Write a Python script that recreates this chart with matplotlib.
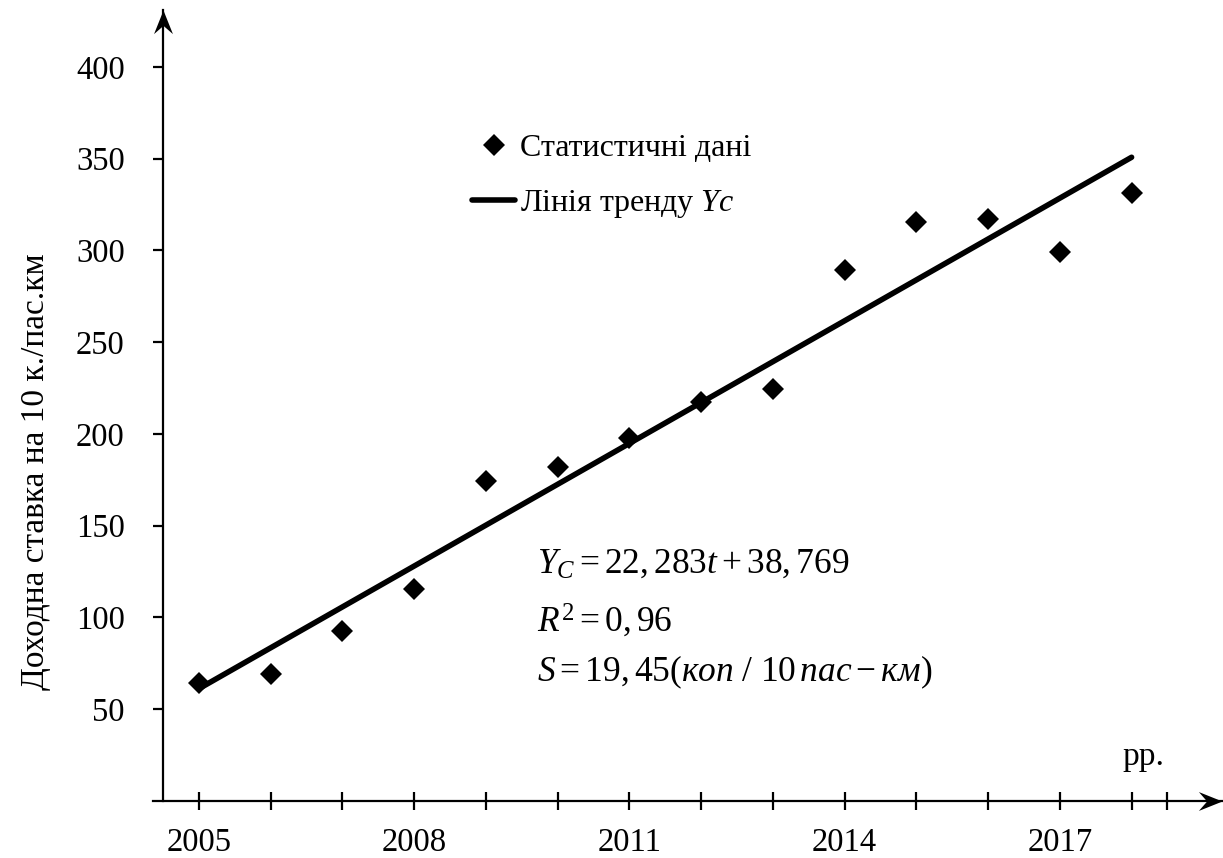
import matplotlib
matplotlib.use("Agg")
import matplotlib.pyplot as plt
import numpy as np
from matplotlib.path import Path

# Passenger revenue rate per 10 pass-km by year
years = np.arange(2005, 2019)
rate = [64.3, 69.1, 92.5, 115.5, 174.4, 182.0, 197.8, 217.4, 224.5,
        289.4, 315.7, 317.0, 299.0, 331.5]

# Linear trend Yc = a*t + b, t = 1 for the first year
trend_slope = 22.283
trend_intercept = 38.769

y_ticks = [50, 100, 150, 200, 250, 300, 350, 400]
x_label_years = [2005, 2008, 2011, 2014, 2017]

plt.rcParams["font.family"] = ["Liberation Serif", "DejaVu Serif"]
plt.rcParams["mathtext.fontset"] = "custom"
plt.rcParams["mathtext.rm"] = "Liberation Serif"
plt.rcParams["mathtext.it"] = "Liberation Serif:italic"
plt.rcParams["mathtext.bf"] = "Liberation Serif:bold"

W, H = 1223, 858
fig = plt.figure(figsize=(W / 100, H / 100), dpi=100)
ax = fig.add_axes([153 / W, 57.3 / H, 1069 / W, 790.7 / H])

x_min, x_max = 2004.36, 2019.26
y_axis_x = 2004.5
y_max = 431
ax.set_xlim(x_min, x_max)
ax.set_ylim(0, y_max)

t = years - years[0] + 1
trend = trend_slope * t + trend_intercept

pts, = ax.plot(years, rate, linestyle="none", marker="D", color="black",
               ms=11, mew=0, zorder=3, label="Статистичні дані")
line, = ax.plot(years, trend, color="black", lw=4, solid_capstyle="round",
                zorder=2, label="Лінія тренду $Yc$")

# Axes drawn as arrows
for side in ("top", "right"):
    ax.spines[side].set_visible(False)
ax.spines["left"].set_position(("data", y_axis_x))
ax.spines["bottom"].set_position(("data", 0))
for side in ("left", "bottom"):
    ax.spines[side].set_linewidth(1.6)

head_right = Path([(0, 0), (-1, 0.4), (-0.65, 0), (-1, -0.4), (0, 0)],
                  [Path.MOVETO, Path.LINETO, Path.LINETO, Path.LINETO, Path.CLOSEPOLY])
head_up = Path([(0, 0), (0.4, -1), (0, -0.65), (-0.4, -1), (0, 0)],
               [Path.MOVETO, Path.LINETO, Path.LINETO, Path.LINETO, Path.CLOSEPOLY])
ax.plot([x_max], [0], marker=head_right, ms=34, color="black", mew=0, clip_on=False)
ax.plot([y_axis_x], [y_max], marker=head_up, ms=34, color="black", mew=0, clip_on=False)

xt = list(years) + [2018.5]
ax.set_xticks(xt)
ax.set_xticklabels([str(y) if y in x_label_years else "" for y in xt])
ax.set_yticks(y_ticks)
ax.set_yticklabels([str(v) for v in y_ticks])
ax.tick_params(axis="x", direction="inout", length=13, width=1.6, pad=13, labelsize=23.5)
ax.tick_params(axis="y", direction="out", length=7.5, width=1.6, pad=20, labelsize=23.5)

fig.text(36 / W, (H - 472) / H, "Доходна ставка на 10 к./пас.км", rotation=90,
         ha="center", va="center", fontsize=24)

ax.text(2017.87, 19.5, "рр.", fontsize=24, ha="left", va="baseline")

ax.text(2009.71, 124, r"$Y_C = 22,283t + 38,769$", fontsize=25.5, va="baseline")
ax.text(2009.71, 92, r"$R^2 = 0,96$", fontsize=25.5, va="baseline")
ax.text(2009.71, 65, r"$S = 19,45(\mathit{коп}\ /\ 10\,\mathit{пас} - \mathit{км})$",
        fontsize=25.5, va="baseline")

ax.legend(handles=[pts, line], loc="upper left",
          bbox_to_anchor=((472 - 153) / 1069, 1 - (134 - 10) / 790.7),
          frameon=False, fontsize=23, handlelength=1.35, handletextpad=0.15,
          labelspacing=0.78, borderpad=0, borderaxespad=0)

fig.savefig("out.png", dpi=100)
